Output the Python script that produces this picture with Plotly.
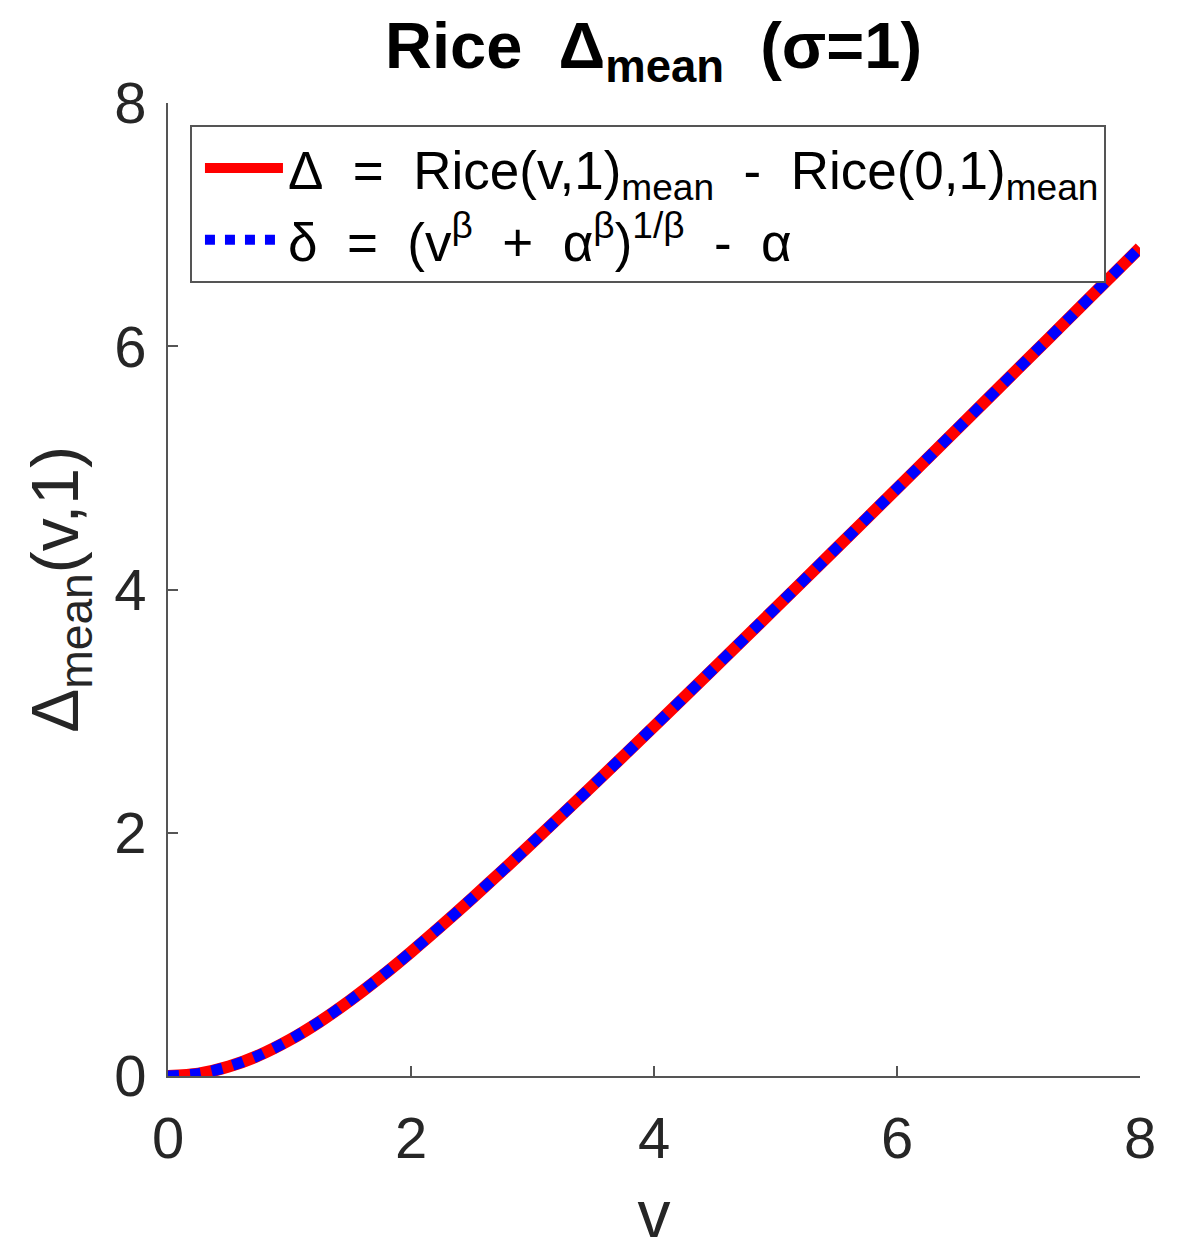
import plotly.graph_objects as go

# Values
v_values = [0, 0.25, 0.5, 0.75, 1, 1.25, 1.5, 1.75, 2, 2.25, 2.5, 2.75, 3,
            3.5, 4, 4.5, 5, 5.5, 6, 6.5, 7, 7.5, 8]
delta_rice = [0, 0.0195, 0.0771, 0.1703, 0.2953, 0.4473, 0.6216, 0.8135,
              1.0191, 1.2347, 1.4579, 1.6864, 1.9192, 2.3925, 2.8737, 3.3592,
              3.8477, 4.3383, 4.8306, 5.3241, 5.8185, 6.3137, 6.8094]
delta_approx = [0, 0.0195, 0.0771, 0.1703, 0.2953, 0.4473, 0.6216, 0.8135,
                1.0191, 1.2347, 1.4579, 1.6864, 1.9192, 2.3925, 2.8737, 3.3592,
                3.8477, 4.3383, 4.8306, 5.3241, 5.8185, 6.3137, 6.8094]
tick_vals = [0, 2, 4, 6, 8]
tick_text = ["0", "2", "4", "6", "8"]

NB = "\u00a0"
name1 = f"Δ{NB}{NB}={NB}{NB}Rice(v,1)<sub>mean</sub>{NB}{NB}-{NB}{NB}Rice(0,1)<sub>mean</sub>"
name2 = f"δ{NB}{NB}={NB}{NB}(v<sup>β</sup>{NB}{NB}+{NB}{NB}α<sup>β</sup>)<sup>1/β</sup>{NB}{NB}-{NB}{NB}α"

FONT = "Liberation Sans, Arial, Helvetica, sans-serif"
AXC = "#555555"

fig = go.Figure()
fig.add_trace(go.Scatter(x=v_values, y=delta_rice, mode="lines", name=name1,
                         line=dict(color="#ff0000", width=12, shape="spline", smoothing=0.8)))
fig.add_trace(go.Scatter(x=v_values, y=delta_approx, mode="lines", name=name2,
                         line=dict(color="#0000ff", width=11, dash="dot", shape="spline", smoothing=0.8)))

axis_common = dict(
    range=[0, 8], tickvals=tick_vals, ticktext=tick_text,
    showline=True, linecolor=AXC, linewidth=2, mirror=False,
    ticks="inside", ticklen=10, tickwidth=2, tickcolor=AXC,
    showgrid=False, zeroline=False, automargin=False,
    tickfont=dict(family=FONT, size=58, color="#262626"),
)

fig.update_layout(
    width=1200, height=1250,
    margin=dict(l=160, r=68, t=95, b=182),
    paper_bgcolor="white", plot_bgcolor="white",
    title=dict(text=f"Rice{NB}{NB}Δ<sub>mean</sub>{NB}{NB}(σ=1)",
               font=dict(family=FONT, size=65, color="black", weight="bold"),
               x=0.538, xanchor="center", y=0.97, yanchor="middle"),
    xaxis=dict(**axis_common, ticklabelstandoff=10,
               title=dict(text="v", font=dict(family=FONT, size=66, color="#262626"),
                          standoff=22)),
    yaxis=dict(**axis_common, ticklabelstandoff=8,
               title=dict(text="Δ<sub>mean</sub>(v,1)",
                          font=dict(family=FONT, size=66, color="#262626"),
                          standoff=14)),
    legend=dict(x=0.0226, y=0.9774, xanchor="left", yanchor="top",
                bgcolor="white", bordercolor=AXC, borderwidth=2,
                font=dict(family=FONT, size=53, color="black"),
                itemwidth=78, indentation=8),
    showlegend=True,
)

fig.write_html("out.html")
